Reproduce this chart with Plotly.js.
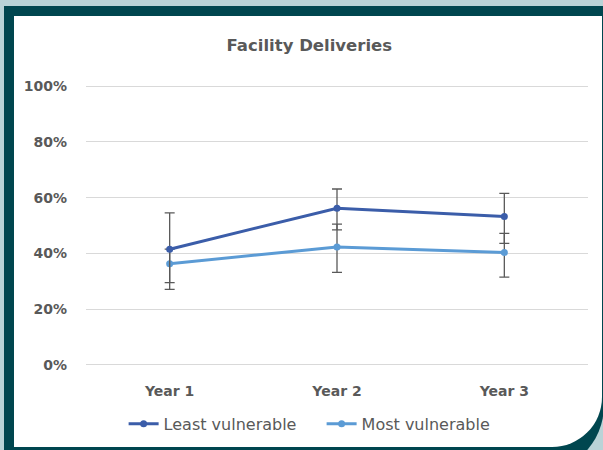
<!DOCTYPE html>
<html>
<head>
<meta charset="utf-8">
<script src="https://cdn.plot.ly/plotly-3.0.1.min.js"></script>
<style>
  html, body { margin:0; padding:0; width:603px; height:450px; overflow:hidden; background:#b9d3d7; }
  #outer { position:absolute; left:4px; top:6px; width:600px; height:468px; background:#00464f; border-bottom-right-radius:69px; }
  #inner { position:absolute; left:14px; top:16px; width:588px; height:431px; background:#ffffff; border-bottom-right-radius:50px; }
  #chart { position:absolute; left:0; top:0; width:603px; height:450px; }
</style>
</head>
<body>
<div id="outer"></div>
<div id="inner"></div>
<div id="chart"></div>
<script>
const categories = ['Year 1', 'Year 2', 'Year 3'];
const leastName = 'Least vulnerable';
const mostName = 'Most vulnerable';
const leastVals = [41.5, 56.2, 53.2];
const leastUpper = [54.5, 63.1, 61.5];
const leastLower = [29.5, 48.4, 43.6];
const mostVals = [36.3, 42.3, 40.3];
const mostUpper = [41.5, 50.5, 47.2];
const mostLower = [27.1, 33.2, 31.5];
const yTicks = [0, 20, 40, 60, 80, 100];
const yTickText = ['0%', '20%', '40%', '60%', '80%', '100%'];

const leastColor = '#3b5da9';
const mostColor = '#5b9bd5';
const errColor = '#595959';
const textColor = '#595959';
const fontFam = 'DejaVu Sans, sans-serif';

function errObj(vals, up, lo) {
  return {
    type: 'data', symmetric: false,
    array: up.map((u, i) => u - vals[i]),
    arrayminus: lo.map((l, i) => vals[i] - l),
    color: errColor, thickness: 1.3, width: 5
  };
}

const traces = [
  {
    x: categories, y: mostVals, name: mostName, type: 'scatter', mode: 'lines+markers',
    line: {color: mostColor, width: 3},
    marker: {color: mostColor, size: 7, symbol: 'circle'},
    error_y: errObj(mostVals, mostUpper, mostLower)
  },
  {
    x: categories, y: leastVals, name: leastName, type: 'scatter', mode: 'lines+markers',
    line: {color: leastColor, width: 3},
    marker: {color: leastColor, size: 7, symbol: 'circle'},
    error_y: errObj(leastVals, leastUpper, leastLower)
  }
];

const layout = {
  width: 603, height: 450,
  paper_bgcolor: 'rgba(0,0,0,0)', plot_bgcolor: 'rgba(0,0,0,0)',
  margin: {l: 86, r: 15, t: 85, b: 84},
  showlegend: true,
  title: {
    text: 'Facility Deliveries', x: 0.513, xref: 'container', y: 0.9, yref: 'container',
    xanchor: 'center', yanchor: 'middle',
    font: {family: fontFam, size: 16.5, color: textColor, weight: 'bold'}
  },
  xaxis: {
    type: 'category', range: [-0.5, 2.5], showgrid: false, zeroline: false, showline: false,
    ticks: '', ticklabelstandoff: 15,
    tickfont: {family: fontFam, size: 14, color: textColor, weight: 'bold'}
  },
  yaxis: {
    range: [-0.4, 100.4], tickvals: yTicks, ticktext: yTickText, showgrid: true, gridcolor: '#d9d9d9', gridwidth: 1,
    zeroline: false, showline: false, ticks: '', ticklabelstandoff: 18,
    tickfont: {family: fontFam, size: 14, color: textColor, weight: 'bold'}
  },
  legend: {
    orientation: 'h', xref: 'container', yref: 'container',
    x: 0.205, xanchor: 'left', y: 0.058, yanchor: 'middle',
    traceorder: 'reversed', bgcolor: 'rgba(0,0,0,0)',
    entrywidth: 153, entrywidthmode: 'pixels',
    font: {family: fontFam, size: 16, color: textColor}
  }
};

Plotly.newPlot('chart', traces, layout, {displayModeBar: false, staticPlot: true});
</script>
</body>
</html>
